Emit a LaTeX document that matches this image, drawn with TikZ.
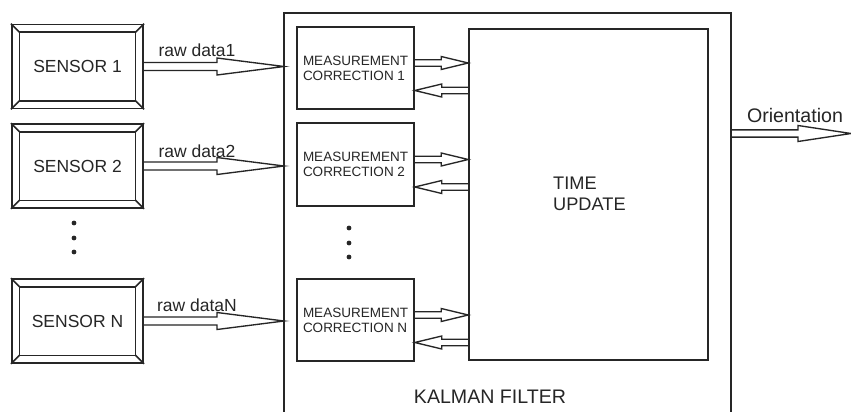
\documentclass[tikz,border=0pt]{standalone}
\usepackage{fontspec}
\setmainfont{Liberation Sans}
\usetikzlibrary{calc}
\definecolor{ink}{HTML}{262626}
\newcommand\hollowarr[5]{%
  \draw[conn] let \p1=(#1), \p2=(#2), \n1={sign(\x2-\x1)} in
   (\x1,\y1+#3) -- (\x2-\n1*#4,\y1+#3) -- (\x2-\n1*#4,\y1+#5) -- (\x2,\y1)
   -- (\x2-\n1*#4,\y1-#5) -- (\x2-\n1*#4,\y1-#3) -- (\x1,\y1-#3);}
\begin{document}
\begin{tikzpicture}[x=1pt,y=-1pt,
  frame/.style={draw=ink, line width=1.6pt},
  conn/.style={draw=ink, line width=1.35pt, line join=miter},
  sensorbox/.style={frame, minimum width=131.5pt, minimum height=84pt, inner sep=0pt,
     text=ink, font=\fontsize{17.5}{21}\selectfont},
  mcbox/.style={frame, minimum width=117pt, minimum height=82.5pt, inner sep=0pt,
     align=left, text=ink, font=\fontsize{13.5}{15}\selectfont},
  tubox/.style={frame, minimum width=239pt, minimum height=331pt, inner sep=0pt},
  lbl/.style={text=ink, font=\fontsize{17.5}{21}\selectfont, inner sep=0pt},
  biglbl/.style={text=ink, font=\fontsize{19.6}{23}\selectfont, inner sep=0pt},
  dot/.style={circle, fill=ink, minimum size=4.8pt, inner sep=0pt}]
\useasboundingbox[fill=white] (0,0) rectangle (851,412);

% Kalman filter frame (open at the bottom edge)
\coordinate (kfL) at (284,13);
\coordinate (kfR) at (731,13);
\draw[frame] (284,412) -- (kfL) -- (kfR) -- (731,412);
\node[biglbl] (kft) at (490,397) {KALMAN FILTER};

% Sensors
\node[sensorbox] (s1) at (77.5,66.5) {SENSOR 1};
\node[sensorbox] (s2) at (77.5,166) {SENSOR 2};
\node[sensorbox] (sN) at (77.5,321) {SENSOR N};
\foreach \s in {s1,s2,sN}{
  \draw[frame] ([xshift=8.5pt,yshift=-8.5pt]\s.north west) rectangle ([xshift=-8.5pt,yshift=8.5pt]\s.south east);
  \draw[frame] (\s.north west) -- ([xshift=8.5pt,yshift=-8.5pt]\s.north west);
  \draw[frame] (\s.north east) -- ([xshift=-8.5pt,yshift=-8.5pt]\s.north east);
  \draw[frame] (\s.south west) -- ([xshift=8.5pt,yshift=8.5pt]\s.south west);
  \draw[frame] (\s.south east) -- ([xshift=-8.5pt,yshift=8.5pt]\s.south east);
}
\node[dot] (ld1) at (74,223) {};
\node[dot] (ld2) at (74,238) {};
\node[dot] (ld3) at (74,252) {};

% Measurement corrections
\node[mcbox] (mc1) at (355.5,68) {MEASUREMENT\\CORRECTION 1};
\node[mcbox] (mc2) at (355.5,164.5) {MEASUREMENT\\CORRECTION 2};
\node[mcbox] (mcN) at (355.5,320) {MEASUREMENT\\CORRECTION N};
\node[dot] (md1) at (349,228) {};
\node[dot] (md2) at (349,243) {};
\node[dot] (md3) at (349,257) {};

% Time update
\node[tubox] (tu) at (588.5,194.5) {};
\node[text=ink, font=\fontsize{18.2}{21}\selectfont, align=left, anchor=west, inner sep=0pt]
  (tut) at (553,193.5) {TIME\\UPDATE};

% raw data arrows
\hollowarr{s1.east}{s1.east -| kfL}{4pt}{67pt}{8.5pt}
\hollowarr{s2.east}{s2.east -| kfL}{4pt}{67pt}{8.5pt}
\hollowarr{sN.east}{sN.east -| kfL}{4pt}{67pt}{8.5pt}
\node[lbl] (r1) at (197,50) {raw data1};
\node[lbl] (r2) at (197,151) {raw data2};
\node[lbl] (rN) at (197,305) {raw dataN};

% MC <-> TU arrows
\foreach \m in {mc1,mc2,mcN}{
  \coordinate (\m f) at ($(\m.east)+(0,-5)$);
  \coordinate (\m b) at ($(\m.east)+(0,22.5)$);
  \hollowarr{\m f}{\m f -| tu.west}{3.3pt}{27pt}{6.5pt}
  \hollowarr{\m b -| tu.west}{\m b}{3.3pt}{27pt}{6.5pt}
}

% Orientation output
\coordinate (oS) at (731,133.5);
\coordinate (oE) at (851,133.5);
\hollowarr{oS}{oE}{3.6pt}{53pt}{8pt}
\node[biglbl] (ot) at (795,115) {Orientation};
\end{tikzpicture}
\end{document}
